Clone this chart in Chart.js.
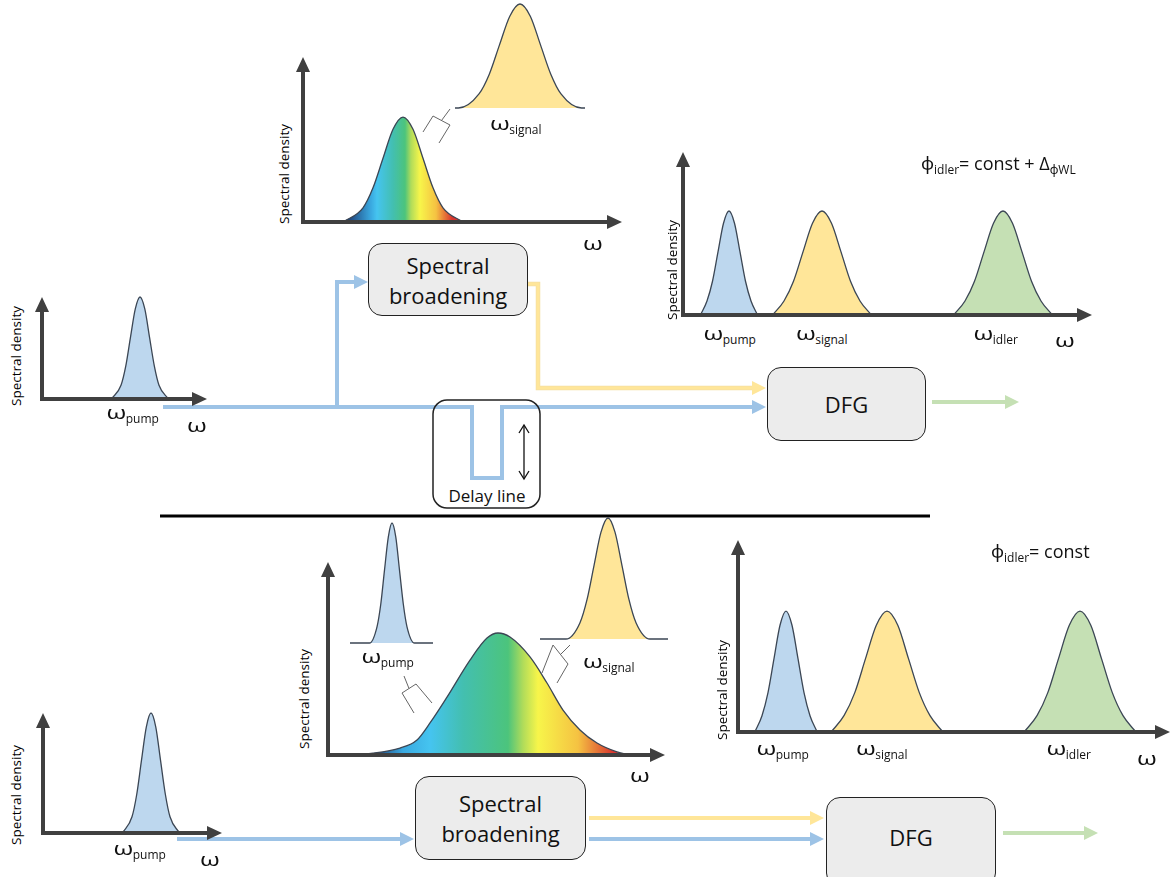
<!DOCTYPE html>
<html>
<head>
<meta charset="utf-8">
<script src="https://cdn.jsdelivr.net/npm/chart.js"></script>
<style>
  html, body { margin: 0; padding: 0; background: #fff; }
  #stage { position: relative; width: 1172px; height: 877px; overflow: hidden; font-family: 'Open Sans', 'Noto Sans', sans-serif; color: #111; }
  canvas { position: absolute; }
  #wires { position: absolute; left: 0; top: 0; }
  .lbl { position: absolute; transform: translate(-50%, -50%); white-space: nowrap; line-height: 1; }
  .sd { font-size: 13.5px; transform: translate(-50%, -50%) rotate(-90deg); color: #000; }
  .w { font-size: 19px; }
  .w i { font-style: normal; display: inline-block; transform: scaleX(1.35); margin: 0 2px; }
  .w sub { font-size: 12px; vertical-align: -4px; }
  .ttl { position: absolute; transform: translateY(-50%); font-size: 18px; white-space: nowrap; line-height: 1; }
  .ttl sub { font-size: 12px; vertical-align: -4px; }
  .box { position: absolute; box-sizing: border-box; border: 1.5px solid #222; border-radius: 14px; background: #ececec;
         display: flex; align-items: center; justify-content: center; text-align: center; font-size: 22px; line-height: 30px; }
</style>
</head>
<body>
<div id="stage">
  <svg id="wires" width="1172" height="877">
    <g fill="none" stroke-width="4" stroke-linejoin="miter">
      <polyline stroke="#9dc3e6" points="163,407 472,407 472,478 502,478 502,407 752,407"/>
      <polyline stroke="#9dc3e6" points="337,407 337,282 354,282"/>
      <polyline stroke="#f4dfa0" stroke-width="4.5" points="528,284 538,284 538,388 752,388"/>
      <polyline stroke="#ffe699" stroke-width="3" points="528,284 538,284 538,388 752,388"/>
      <polyline stroke="#c5e0b4" points="932,402 1005,402"/>
      <polyline stroke="#9dc3e6" points="177,839 400,839"/>
      <polyline stroke="#ffe699" points="589,818 810,818"/>
      <polyline stroke="#9dc3e6" points="589,839 810,839"/>
      <polyline stroke="#c5e0b4" points="1003,833 1084,833"/>
    </g>
    <g stroke="none">
      <polygon fill="#9dc3e6" points="766,407 752,400 752,414"/>
      <polygon fill="#9dc3e6" points="368,282 354,275 354,289"/>
      <polygon fill="#ffe699" points="766,388 752,381 752,395"/>
      <polygon fill="#c5e0b4" points="1019,402 1005,395 1005,409"/>
      <polygon fill="#9dc3e6" points="414,839 400,832 400,846"/>
      <polygon fill="#ffe699" points="824,818 810,811 810,825"/>
      <polygon fill="#9dc3e6" points="824,839 810,832 810,846"/>
      <polygon fill="#c5e0b4" points="1098,833 1084,826 1084,840"/>
    </g>
    <rect x="433" y="400" width="107" height="108" rx="14" fill="none" stroke="#222" stroke-width="1.5"/>
    <g fill="none" stroke="#111" stroke-width="1.3">
      <line x1="524" y1="426" x2="524" y2="478"/>
      <polyline points="519,433 524,425 529,433"/>
      <polyline points="519,471 524,479 529,471"/>
    </g>
    <line x1="160" y1="516" x2="930" y2="516" stroke="#000" stroke-width="3"/>
    <g fill="none" stroke="#666" stroke-width="1">
      <polyline points="423,132 433,116 450,125 439,143"/><line x1="441.5" y1="120.5" x2="450" y2="109"/>
      <polyline points="414,713 402,693 416,684 432,703"/><line x1="409" y1="688.5" x2="404" y2="676"/>
      <polyline points="542,673 553,645 568,664 557,683"/><line x1="560.5" y1="654.5" x2="570" y2="645"/>
    </g>
  </svg>

  <canvas id="plotA"></canvas>
  <canvas id="plotB"></canvas>
  <canvas id="insetB"></canvas>
  <canvas id="plotC"></canvas>
  <canvas id="plotD"></canvas>
  <canvas id="plotE"></canvas>
  <canvas id="insetEpump"></canvas>
  <canvas id="insetEsignal"></canvas>
  <canvas id="plotF"></canvas>

  <div class="box" style="left:368px;top:243px;width:160px;height:73px;">Spectral<br>broadening</div>
  <div class="box" style="left:767px;top:367px;width:159px;height:74px;">DFG</div>
  <div class="box" style="left:415px;top:776px;width:171px;height:84px;">Spectral<br>broadening</div>
  <div class="box" style="left:826px;top:797px;width:170px;height:90px;padding-bottom:10px;">DFG</div>
  <div class="lbl" style="left:487px;top:495px;font-size:17px;">Delay line</div>

  <div class="lbl sd" style="left:17px;top:356px;">Spectral density</div>
  <div class="lbl w" style="left:133px;top:414px;"><i>ω</i><sub>pump</sub></div>
  <div class="lbl w" style="left:197px;top:425px;"><i>ω</i></div>

  <div class="lbl sd" style="left:285px;top:174px;">Spectral density</div>
  <div class="lbl w" style="left:593px;top:243px;"><i>ω</i></div>
  <div class="lbl w" style="left:516px;top:125px;"><i>ω</i><sub>signal</sub></div>

  <div class="lbl sd" style="left:673px;top:270px;">Spectral density</div>
  <div class="lbl w" style="left:730px;top:335px;"><i>ω</i><sub>pump</sub></div>
  <div class="lbl w" style="left:822px;top:335px;"><i>ω</i><sub>signal</sub></div>
  <div class="lbl w" style="left:996px;top:335px;"><i>ω</i><sub>idler</sub></div>
  <div class="lbl w" style="left:1065px;top:340px;"><i>ω</i></div>
  <div class="ttl" style="left:921px;top:165px;">ϕ<sub>idler</sub>= const + Δ<sub>ϕWL</sub></div>

  <div class="lbl sd" style="left:17px;top:795px;">Spectral density</div>
  <div class="lbl w" style="left:140px;top:850px;"><i>ω</i><sub>pump</sub></div>
  <div class="lbl w" style="left:210px;top:859px;"><i>ω</i></div>

  <div class="lbl sd" style="left:305px;top:699px;">Spectral density</div>
  <div class="lbl w" style="left:388px;top:658px;"><i>ω</i><sub>pump</sub></div>
  <div class="lbl w" style="left:609px;top:663px;"><i>ω</i><sub>signal</sub></div>
  <div class="lbl w" style="left:640px;top:775px;"><i>ω</i></div>

  <div class="lbl sd" style="left:723px;top:690px;">Spectral density</div>
  <div class="lbl w" style="left:783px;top:750px;"><i>ω</i><sub>pump</sub></div>
  <div class="lbl w" style="left:882px;top:750px;"><i>ω</i><sub>signal</sub></div>
  <div class="lbl w" style="left:1069px;top:750px;"><i>ω</i><sub>idler</sub></div>
  <div class="lbl w" style="left:1147px;top:758px;"><i>ω</i></div>
  <div class="ttl" style="left:991px;top:553px;">ϕ<sub>idler</sub>= const</div>
</div>

<script>
// ---- data: frequency (arbitrary units) and spectral density ----
// top row, input pump
const aPumpW = [6.95, 7.9, 8.38, 8.85, 9.33, 9.8, 10.28, 10.75, 11.23, 11.7, 12.65];
const aPumpS = [0, 0.135, 0.325, 0.607, 0.883, 1, 0.883, 0.607, 0.325, 0.135, 0];
// top row, broadened spectrum + zoomed signal slice
const bBroadW = [4.0, 6.0, 7.0, 8.0, 9.0, 10.0, 11.0, 12.0, 13.0, 14.0, 16.0];
const bBroadS = [0, 0.086, 0.207, 0.386, 0.562, 0.636, 0.562, 0.386, 0.207, 0.086, 0];
const bSignalW = [0, 0.35, 2.4, 3.43, 4.45, 5.48, 6.5, 7.53, 8.55, 9.58, 10.6, 12.65, 13];
const bSignalS = [0, 0, 0.135, 0.325, 0.607, 0.883, 1, 0.883, 0.607, 0.325, 0.135, 0, 0];
// top row, DFG output
const cPumpW = [1.74, 2.4, 2.95, 3.5, 4.05, 4.6, 5.15, 5.7, 6.25, 6.8, 7.46];
const cSignalW = [8.96, 10.1, 11.05, 12.0, 12.95, 13.9, 14.85, 15.8, 16.75, 17.7, 18.84];
const cIdlerW = [27.06, 28.2, 29.15, 30.1, 31.05, 32.0, 32.95, 33.9, 34.85, 35.8, 36.94];
const cPeakS = [0, 0.086, 0.207, 0.387, 0.563, 0.638, 0.563, 0.387, 0.207, 0.086, 0];
// bottom row, input pump
const dPumpW = [7.95, 8.9, 9.38, 9.85, 10.33, 10.8, 11.28, 11.75, 12.23, 12.7, 13.65];
const dPumpS = [0, 0.135, 0.325, 0.607, 0.883, 1, 0.883, 0.607, 0.325, 0.135, 0];
// bottom row, broadened spectrum + zoomed pump and signal slices
const eBroadW = [1.2, 4.5, 7.2, 8.9, 10.2, 11.9, 14.2, 15.9, 17.0, 18.2, 20.2, 21.9, 23.5, 25.2, 26.9, 28.9, 30.2];
const eBroadS = [0, 0.01, 0.036, 0.078, 0.166, 0.30, 0.492, 0.606, 0.632, 0.611, 0.508, 0.373, 0.233, 0.13, 0.062, 0.016, 0];
const ePumpW = [0, 1.95, 2.7, 3.08, 3.45, 3.83, 4.2, 4.58, 4.95, 5.33, 5.7, 6.45, 8.3];
const ePumpS = [0, 0, 0.135, 0.325, 0.607, 0.883, 1, 0.883, 0.607, 0.325, 0.135, 0, 0];
const eSignalW = [0, 2.6, 4.0, 4.7, 5.4, 6.1, 6.8, 7.5, 8.2, 8.9, 9.6, 11.0, 12.8];
const eSignalS = [0, 0, 0.135, 0.325, 0.607, 0.883, 1, 0.883, 0.607, 0.325, 0.135, 0, 0];
// bottom row, DFG output
const fPumpW = [1.68, 2.4, 3.0, 3.6, 4.2, 4.8, 5.4, 6.0, 6.6, 7.2, 7.92];
const fSignalW = [9.31, 10.6, 11.68, 12.75, 13.83, 14.9, 15.98, 17.05, 18.13, 19.2, 20.49];
const fIdlerW = [28.61, 29.9, 30.98, 32.05, 33.13, 34.2, 35.28, 36.35, 37.43, 38.5, 39.79];
const fPeakS = [0, 0.085, 0.205, 0.382, 0.556, 0.63, 0.556, 0.382, 0.205, 0.085, 0];

// rainbow fill of the broadened spectra (position in frequency units, colour)
const bRainbowAt = [4.5, 6.8, 7.4, 9.0, 10.2, 10.8, 11.7, 13.3, 14.9];
const eRainbowAt = [4.5, 7.5, 10.2, 13.5, 18.0, 19.5, 21.0, 25.0, 28.5];
const rainbowCol = ['#1d3f78', '#3aa9e0', '#45c4f0', '#43bfb0', '#4cc47c', '#b0dc5a', '#f7f54a', '#f5c242', '#d9362f'];

const PUMP = '#bdd7ee', SIGNAL = '#ffe699', IDLER = '#c5e0b4', EDGE = '#3b4654';

// thick axes with arrow heads, drawn over the peaks' bases
const arrowAxes = {
  id: 'arrowAxes',
  afterDatasetsDraw(chart, args, opts) {
    if (!opts.show) return;
    const { ctx, chartArea: a } = chart;
    const head = 14, half = 7;
    ctx.save();
    ctx.strokeStyle = ctx.fillStyle = '#404040';
    ctx.lineWidth = 4;
    ctx.lineJoin = 'miter';
    ctx.beginPath();
    ctx.moveTo(a.left, a.top + head);
    ctx.lineTo(a.left, a.bottom);
    ctx.lineTo(a.right - head, a.bottom);
    ctx.stroke();
    ctx.beginPath();
    ctx.moveTo(a.left, a.top);
    ctx.lineTo(a.left - half, a.top + head + 1);
    ctx.lineTo(a.left + half, a.top + head + 1);
    ctx.closePath();
    ctx.fill();
    ctx.beginPath();
    ctx.moveTo(a.right, a.bottom);
    ctx.lineTo(a.right - head - 1, a.bottom - half);
    ctx.lineTo(a.right - head - 1, a.bottom + half);
    ctx.closePath();
    ctx.fill();
    ctx.restore();
  }
};

function rainbow(at) {
  return (c) => {
    const chart = c.chart;
    if (!chart.chartArea) return SIGNAL;
    const xs = chart.scales.x;
    const x0 = xs.getPixelForValue(at[0]), x1 = xs.getPixelForValue(at[at.length - 1]);
    const g = chart.ctx.createLinearGradient(x0, 0, x1, 0);
    at.forEach((v, i) => g.addColorStop((v - at[0]) / (at[at.length - 1] - at[0]), rainbowCol[i]));
    return g;
  };
}

function peak(ws, ss, fill) {
  return {
    data: ws.map((w, i) => ({ x: w, y: ss[i] })),
    fill: 'origin',
    backgroundColor: fill,
    borderColor: EDGE,
    borderWidth: 1.3,
    cubicInterpolationMode: 'monotone',
    pointRadius: 0,
    clip: false
  };
}

// area = axes box on the page: left/right/top/bottom in px
function plot(id, area, xMax, yMax, datasets, axes) {
  const m = 8;
  const cv = document.getElementById(id);
  cv.width = area.r - area.l + 2 * m;
  cv.height = area.b - area.t + 2 * m;
  cv.style.left = (area.l - m) + 'px';
  cv.style.top = (area.t - m) + 'px';
  return new Chart(cv, {
    type: 'line',
    data: { datasets },
    options: {
      responsive: false,
      animation: false,
      layout: { padding: m },
      scales: {
        x: { type: 'linear', display: false, min: 0, max: xMax },
        y: { type: 'linear', display: false, min: 0, max: yMax }
      },
      plugins: { legend: { display: false }, tooltip: { enabled: false }, arrowAxes: { show: axes } },
      events: []
    },
    plugins: [arrowAxes]
  });
}

plot('plotA', { l: 42, r: 207, t: 297, b: 399 }, 16.5, 1, [peak(aPumpW, aPumpS, PUMP)], true);
plot('plotB', { l: 303, r: 622, t: 57, b: 222 }, 31.9, 1, [peak(bBroadW, bBroadS, rainbow(bRainbowAt))], true);
plot('insetB', { l: 455, r: 585, t: 4, b: 108 }, 13, 1, [peak(bSignalW, bSignalS, SIGNAL)], false);
plot('plotC', { l: 683, r: 1092, t: 152, b: 315 }, 40.9, 1, [
  peak(cPumpW, cPeakS, PUMP), peak(cSignalW, cPeakS, SIGNAL), peak(cIdlerW, cPeakS, IDLER)
], true);
plot('plotD', { l: 43, r: 222, t: 713, b: 833 }, 17.9, 1, [peak(dPumpW, dPumpS, PUMP)], true);
plot('plotE', { l: 328, r: 665, t: 562, b: 755 }, 33.7, 1, [peak(eBroadW, eBroadS, rainbow(eRainbowAt))], true);
plot('insetEpump', { l: 350, r: 433, t: 523, b: 643 }, 8.3, 1, [peak(ePumpW, ePumpS, PUMP)], false);
plot('insetEsignal', { l: 540, r: 668, t: 518, b: 639 }, 12.8, 1, [peak(eSignalW, eSignalS, SIGNAL)], false);
plot('plotF', { l: 738, r: 1170, t: 540, b: 732 }, 43.2, 1, [
  peak(fPumpW, fPeakS, PUMP), peak(fSignalW, fPeakS, SIGNAL), peak(fIdlerW, fPeakS, IDLER)
], true);
</script>
</body>
</html>
